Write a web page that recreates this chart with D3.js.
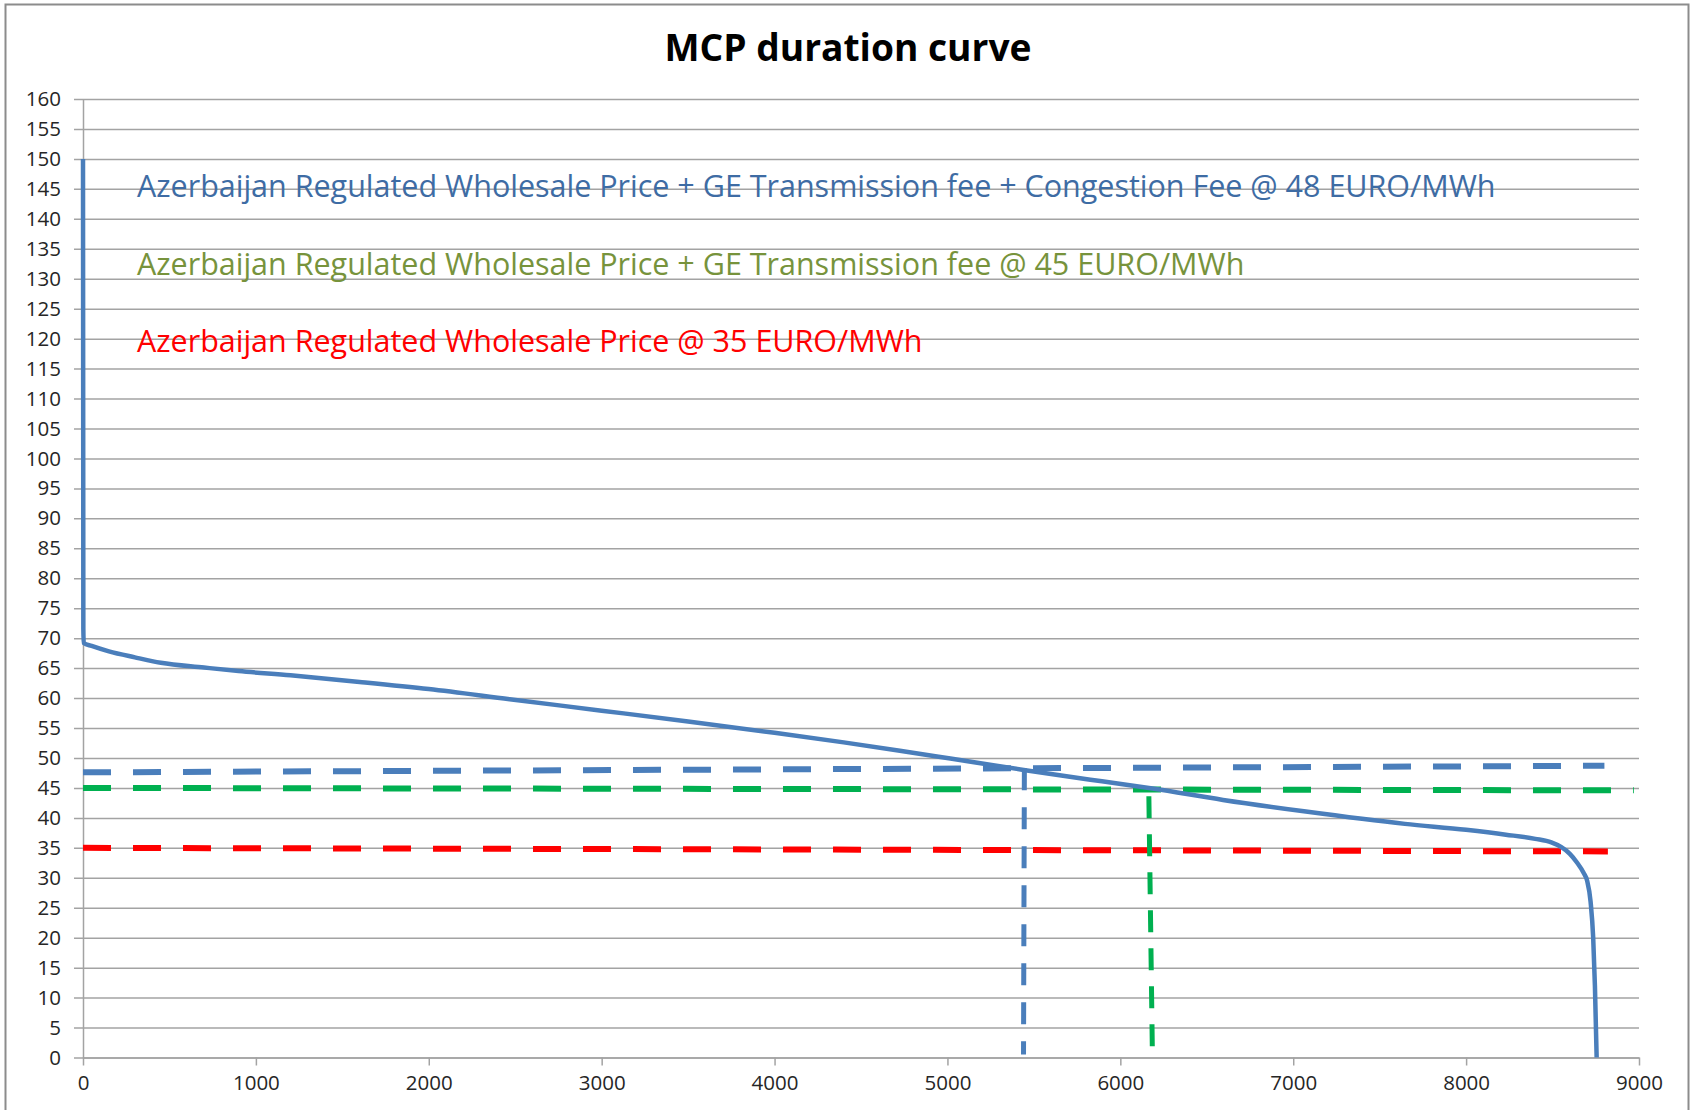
<!DOCTYPE html>
<html>
<head>
<meta charset="utf-8">
<script src="https://cdn.jsdelivr.net/npm/d3@7"></script>
<style>
  html, body { margin: 0; padding: 0; background: #ffffff; }
  svg { display: block; }
</style>
</head>
<body>
<svg id="chart" width="1692" height="1110"></svg>
<script>
// ---------------- DATA ----------------
const chartTitle = "MCP duration curve";

// MCP duration curve (hours sorted by price, EURO/MWh)
const hours = [0, 2, 4, 50, 150, 300, 450, 700, 900, 1200, 1600, 2000, 2468, 3000, 3500, 4000, 4400, 4725, 5017, 5441, 5894, 6186, 6594, 7062, 7646, 8000, 8230, 8400, 8493, 8551, 8600, 8640, 8680, 8700, 8720, 8735, 8745, 8755];
const price = [150, 71.5, 69.2, 68.7, 67.8, 66.8, 65.9, 65.1, 64.5, 63.8, 62.7, 61.5, 59.8, 57.9, 56.1, 54.2, 52.6, 51.2, 49.9, 48.0, 46.1, 44.9, 43.0, 41.1, 39.0, 38.0, 37.2, 36.5, 35.9, 35.1, 34.0, 32.6, 30.8, 29.5, 26.0, 20.0, 12.0, 0];

// Reference price lines (dashed)
const congestionHours = [0, 8800];
const congestionPrice = [47.6, 48.7];
const transmissionHours = [0, 8970];
const transmissionPrice = [45.0, 44.6];
const regulatedHours = [0, 8820];
const regulatedPrice = [35.0, 34.4];

// Vertical markers where the curve crosses the reference prices
const crossCongestionHours = [5445, 5440];
const crossCongestionPrice = [48.3, 0.5];
const crossTransmissionHours = [6165, 6185];
const crossTransmissionPrice = [43.6, 1.5];

// Tick labels
const xTickLabels = [0, 1000, 2000, 3000, 4000, 5000, 6000, 7000, 8000, 9000];
const yTickLabels = [0, 5, 10, 15, 20, 25, 30, 35, 40, 45, 50, 55, 60, 65, 70, 75, 80, 85, 90, 95, 100, 105, 110, 115, 120, 125, 130, 135, 140, 145, 150, 155, 160];

// Annotation texts
const annotationTexts = [
  "Azerbaijan Regulated Wholesale Price + GE Transmission fee + Congestion Fee @ 48 EURO/MWh",
  "Azerbaijan Regulated Wholesale Price + GE Transmission fee @ 45 EURO/MWh",
  "Azerbaijan Regulated Wholesale Price @ 35 EURO/MWh"
];

// ---------------- LAYOUT / STYLE ----------------
const svg = d3.select("#chart");
const plot = { left: 83, right: 1639, top: 99, bottom: 1057.5 };
const FONT = "'Open Sans', 'Noto Sans', sans-serif";
const gridColor = "#a3a3a3";

const x = d3.scaleLinear().domain([0, 9000]).range([plot.left, plot.right]);
const y = d3.scaleLinear().domain([0, 160]).range([plot.bottom, plot.top]);

// Outer chart border
svg.append("rect")
  .attr("x", 5.5).attr("y", 4.5)
  .attr("width", 1683).attr("height", 1120)
  .attr("fill", "#ffffff")
  .attr("stroke", "#8c8c8c").attr("stroke-width", 2);

// Fit text width helper
function fitWidth(sel, target) {
  const node = sel.node();
  const fs = parseFloat(sel.attr("font-size"));
  const w = node.getComputedTextLength();
  if (w > 0) sel.attr("font-size", (fs * target / w).toFixed(2));
}

// Title
const title = svg.append("text")
  .attr("x", 848).attr("y", 61)
  .attr("text-anchor", "middle")
  .attr("font-family", FONT)
  .attr("font-weight", "bold")
  .attr("font-size", 34)
  .attr("fill", "#000000")
  .text(chartTitle);
fitWidth(title, 367);

// Y axis with gridlines
const yAxis = d3.axisLeft(y)
  .tickValues(yTickLabels)
  .tickFormat(d3.format("d"))
  .tickSizeInner(-(plot.right - plot.left))
  .tickSizeOuter(0)
  .tickPadding(0);

const gy = svg.append("g")
  .attr("transform", `translate(${plot.left},0)`)
  .call(yAxis);
gy.select(".domain").attr("stroke", gridColor).attr("stroke-width", 1.5);
gy.selectAll(".tick line")
  .attr("stroke", gridColor).attr("stroke-width", 1.5)
  .attr("x1", -9);
gy.selectAll(".tick text")
  .attr("x", -22)
  .attr("font-family", FONT)
  .attr("font-size", 20.5)
  .attr("fill", "#262626");

// X axis
const xAxis = d3.axisBottom(x)
  .tickValues(xTickLabels)
  .tickFormat(d3.format("d"))
  .tickSizeInner(8)
  .tickSizeOuter(0)
  .tickPadding(10);
const gx = svg.append("g")
  .attr("transform", `translate(0,${plot.bottom})`)
  .call(xAxis);
gx.select(".domain").attr("stroke", gridColor).attr("stroke-width", 1.5);
gx.selectAll(".tick line").attr("stroke", gridColor).attr("stroke-width", 1.5);
gx.selectAll(".tick text")
  .attr("font-family", FONT)
  .attr("font-size", 20.5)
  .attr("fill", "#262626");

// Annotation texts
const annColors = ["#3e6ca4", "#77933c", "#ff0000"];
const annBaselines = [197, 274.5, 351.5];
const annNodes = annotationTexts.map((t, i) =>
  svg.append("text")
    .attr("x", 137).attr("y", annBaselines[i])
    .attr("font-family", FONT)
    .attr("font-size", 26)
    .attr("fill", annColors[i])
    .text(t));
fitWidth(annNodes[0], 1359);
annNodes.forEach(n => n.attr("font-size", annNodes[0].attr("font-size")));

// Line generator
const line = d3.line().x(d => x(d[0])).y(d => y(d[1]));
const zip = (a, b) => a.map((v, i) => [v, b[i]]);

function dashed(xs, ys, color, width, dash) {
  svg.append("path")
    .datum(zip(xs, ys))
    .attr("d", line)
    .attr("fill", "none")
    .attr("stroke", color)
    .attr("stroke-width", width)
    .attr("stroke-dasharray", dash);
}

// Horizontal reference lines
dashed(congestionHours, congestionPrice, "#4a7ebb", 6, "28,22");
dashed(transmissionHours, transmissionPrice, "#00b050", 6, "28,22");
dashed(regulatedHours, regulatedPrice, "#ff0000", 6, "28,22");

// Vertical markers
dashed(crossCongestionHours, crossCongestionPrice, "#4a7ebb", 5, "22,17");
dashed(crossTransmissionHours, crossTransmissionPrice, "#00b050", 5, "22,16");

// Main MCP curve
svg.append("path")
  .datum(zip(hours, price))
  .attr("d", d3.line().x(d => x(d[0])).y(d => y(d[1])).curve(d3.curveMonotoneX))
  .attr("fill", "none")
  .attr("stroke", "#4a7ebb")
  .attr("stroke-width", 4.5)
  .attr("stroke-linejoin", "round");
</script>
</body>
</html>
